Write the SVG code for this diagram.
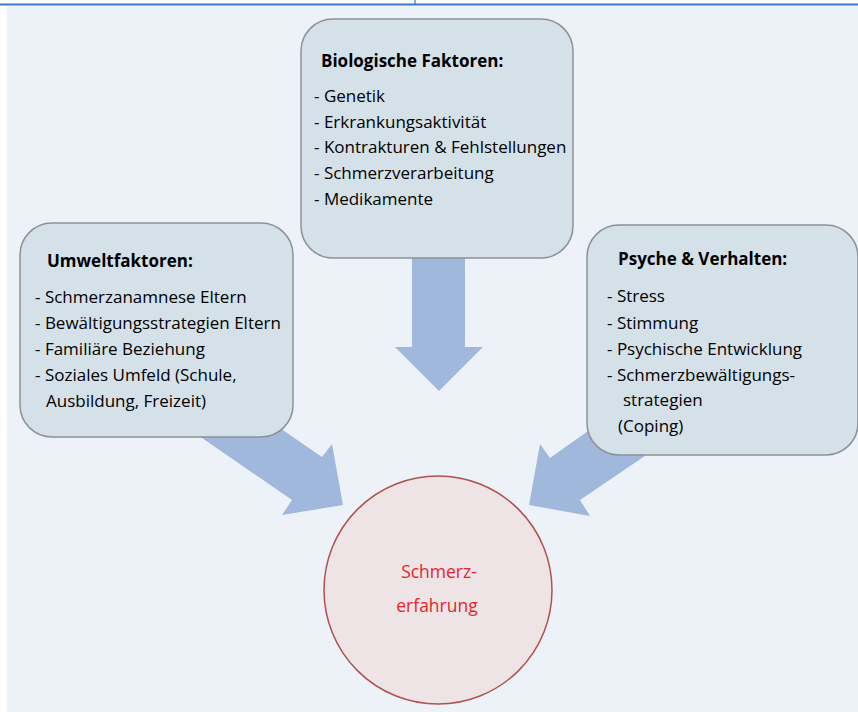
<svg xmlns="http://www.w3.org/2000/svg" width="858" height="712" viewBox="0 0 858 712">
<defs>
<style>
.box{fill:#d5e1e8;stroke:#8e9194;stroke-width:1.5}
.arr{fill:#a0b8db}
.h{font-family:"Open Sans","Liberation Sans",Arial,sans-serif;font-weight:bold;font-size:17px;fill:#000}
.t{font-family:"Open Sans","Liberation Sans",Arial,sans-serif;font-size:17px;fill:#000}
.c{font-family:"Open Sans","Liberation Sans",Arial,sans-serif;font-size:17.5px;fill:#e3262d;text-anchor:middle}
</style>
</defs>
<rect x="0" y="0" width="858" height="712" fill="#ffffff"/>
<rect x="7" y="6" width="851" height="706" fill="#edf2f9"/>
<line x1="0" y1="4.5" x2="858" y2="4.5" stroke="#3b78b9" stroke-width="2"/>
<line x1="415" y1="0" x2="415" y2="5" stroke="#3b78b9" stroke-width="1.2"/>
<g id="connectors">
<polygon class="arr" points="412,200 465,200 465,347 483,347 439,391 395,347 412,347"/>
<polygon class="arr" points="220,387 322,457 332,444 343,505 282,515 292,500 150,402"/>
<polygon class="arr" points="660,380 550,458 540,444 529,505 590,516 580,500 720,405"/>
</g>
<g id="bio">
<rect class="box" x="301" y="19" width="272" height="239" rx="32" ry="32"/>
<text class="h" x="321" y="67">Biologische Faktoren:</text>
<text class="t" x="314" y="102">- Genetik</text>
<text class="t" x="314" y="128">- Erkrankungsaktivität</text>
<text class="t" x="314" y="153">- Kontrakturen &amp; Fehlstellungen</text>
<text class="t" x="314" y="179">- Schmerzverarbeitung</text>
<text class="t" x="314" y="205">- Medikamente</text>
</g>
<g id="umwelt">
<rect class="box" x="20" y="223" width="273" height="214" rx="32" ry="32"/>
<text class="h" x="47" y="267">Umweltfaktoren:</text>
<text class="t" x="35" y="303">- Schmerzanamnese Eltern</text>
<text class="t" x="35" y="329">- Bewältigungsstrategien Eltern</text>
<text class="t" x="35" y="355">- Familiäre Beziehung</text>
<text class="t" x="35" y="381">- Soziales Umfeld (Schule,</text>
<text class="t" x="46" y="407">Ausbildung, Freizeit)</text>
</g>
<g id="psyche">
<rect class="box" x="587" y="225" width="271" height="230" rx="32" ry="32"/>
<text class="h" x="618" y="265">Psyche &amp; Verhalten:</text>
<text class="t" x="607" y="302">- Stress</text>
<text class="t" x="607" y="329">- Stimmung</text>
<text class="t" x="607" y="355">- Psychische Entwicklung</text>
<text class="t" x="607" y="381">- Schmerzbewältigungs-</text>
<text class="t" x="623" y="406">strategien</text>
<text class="t" x="618" y="432">(Coping)</text>
</g>
<g id="schmerz">
<circle cx="438" cy="590" r="114" fill="#eee3e5" stroke="#b0524b" stroke-width="1.5"/>
<text class="c" x="439" y="578">Schmerz-</text>
<text class="c" x="437" y="612">erfahrung</text>
</g>
</svg>
